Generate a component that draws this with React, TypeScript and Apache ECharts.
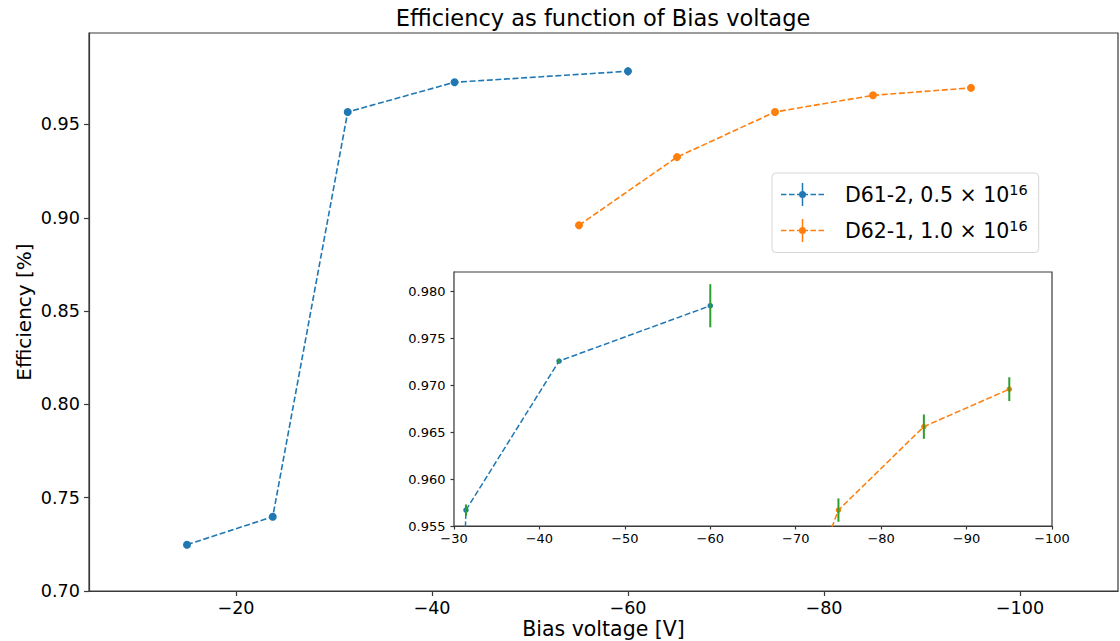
import React, { useEffect, useRef } from "react";
import * as echarts from "echarts";

// ---- data ----
const blueName = "D61-2, 0.5 × 10^16";
const orangeName = "D62-1, 1.0 × 10^16";

const blueVoltage = [-15, -23.75, -31.4, -42.3, -60];
const blueEfficiency = [0.7248, 0.7398, 0.9567, 0.9726, 0.9785];
const blueError = [0.0004, 0.0004, 0.0006, 0.0002, 0.0023];

const orangeVoltage = [-55, -65, -75, -85, -95];
const orangeEfficiency = [0.896, 0.9325, 0.9567, 0.9656, 0.9696];
const orangeError = [0.0012, 0.0012, 0.00125, 0.0013, 0.00127];

const mainXTicks = [-20, -40, -60, -80, -100];
const mainYTicks = [0.7, 0.75, 0.8, 0.85, 0.9, 0.95];
const insetXTicks = [-30, -40, -50, -60, -70, -80, -90, -100];
const insetYTicks = [0.955, 0.96, 0.965, 0.97, 0.975, 0.98];

const BLUE = "#1f77b4";
const ORANGE = "#ff7f0e";
const GREEN = "#2ca02c";
const SPINE = "#3a3a3a";
const FONT = "DejaVu Sans";

const legendIcon =
  "path://M0,10.75h5.5v1.5h-5.5Z M8,10.75h5.5v1.5h-5.5Z M16,10.75h11v1.5h-11Z M29.5,10.75h5.5v1.5h-5.5Z M37.5,10.75h5.5v1.5h-5.5Z M20.75,0h1.5v23h-1.5Z M18,11.5a3.5,3.5 0 1,1 7,0a3.5,3.5 0 1,1 -7,0Z";

const minus = (v: number) => (v < 0 ? "\u2212" + Math.abs(v) : String(v));

const zip = (xs: number[], ys: number[]) => xs.map((x, i) => [x, ys[i]]);
const zip3 = (xs: number[], ys: number[], es: number[]) =>
  xs.map((x, i) => [x, ys[i], es[i]]);

function errRender(color: string, width: number) {
  return (_params: any, api: any) => {
    const x = api.value(0);
    const y = api.value(1);
    const e = api.value(2);
    const p1 = api.coord([x, y - e]);
    const p2 = api.coord([x, y + e]);
    return {
      type: "line",
      shape: { x1: p1[0], y1: p1[1], x2: p2[0], y2: p2[1] },
      style: { stroke: color, lineWidth: width },
    };
  };
}

function axisBase(tickLen: number, labelSize: number, ticks: number[], fmt: (v: number) => string, margin: number) {
  return {
    nameMoveOverlap: false,
    axisLine: { show: true, onZero: false, lineStyle: { color: SPINE, width: 1.2 } },
    axisTick: {
      show: true,
      inside: false,
      length: tickLen,
      customValues: ticks,
      lineStyle: { color: SPINE, width: 1.2 },
    },
    axisLabel: {
      show: true,
      customValues: ticks,
      formatter: fmt,
      fontFamily: FONT,
      fontSize: labelSize,
      color: "#000",
      margin,
      hideOverlap: false,
    },
    splitLine: { show: false },
  };
}

export default function App() {
  const ref = useRef<HTMLDivElement>(null);

  useEffect(() => {
    if (!ref.current) return;
    const chart = echarts.init(ref.current, undefined, { renderer: "svg" });

    const lineDash = [6, 2.6];

    const option: any = {
      animation: false,
      backgroundColor: "#fff",
      title: {
        text: "Efficiency as function of Bias voltage",
        left: 603,
        top: 6,
        textAlign: "center",
        padding: 0,
        textStyle: { fontFamily: FONT, fontSize: 22.5, fontWeight: "normal", color: "#000" },
      },
      legend: {
        orient: "vertical",
        left: 772,
        top: 173,
        padding: [9.5, 11, 10, 9],
        itemWidth: 43,
        itemHeight: 23,
        itemGap: 12,
        selectedMode: false,
        backgroundColor: "rgba(255,255,255,0.8)",
        borderColor: "#d6d6d6",
        borderWidth: 1,
        borderRadius: 4,
        itemStyle: { borderWidth: 0 },
        formatter: (name: string) => name.replace(/\^(\d+)/, "{sup|$1}"),
        textStyle: {
          fontFamily: FONT,
          fontSize: 20.5,
          color: "#000",
          padding: [0, 0, 0, 16],
          lineHeight: 24,
          rich: {
            sup: { fontFamily: FONT, fontSize: 14.5, color: "#000", verticalAlign: "top", lineHeight: 14 },
          },
        },
        data: [
          { name: blueName, icon: legendIcon },
          { name: orangeName, icon: legendIcon },
        ],
      },
      grid: [
        {
          left: 89,
          top: 33,
          width: 1029,
          height: 558,
          show: true,
          outerBoundsMode: "none",
          containLabel: false,
          backgroundColor: "#fff",
          borderColor: SPINE,
          borderWidth: 1.2,
        },
        {
          left: 454,
          top: 272,
          width: 598,
          height: 254,
          show: true,
          outerBoundsMode: "none",
          containLabel: false,
          backgroundColor: "#fff",
          borderColor: SPINE,
          borderWidth: 1.2,
          z: 3,
        },
      ],
      xAxis: [
        {
          type: "value",
          gridIndex: 0,
          inverse: true,
          min: -110,
          max: -5,
          name: "Bias voltage [V]",
          nameLocation: "middle",
          nameGap: 27,
          nameTextStyle: { fontFamily: FONT, fontSize: 20.5, color: "#000" },
          ...axisBase(5, 17.6, mainXTicks, minus, 8),
        },
        {
          type: "value",
          gridIndex: 1,
          inverse: true,
          min: -100,
          max: -30,
          ...axisBase(3.5, 13, insetXTicks, minus, 6),
        },
      ],
      yAxis: [
        {
          type: "value",
          gridIndex: 0,
          min: 0.7,
          max: 0.999,
          name: "Efficiency [%]",
          nameLocation: "middle",
          nameGap: 55,
          nameTextStyle: { fontFamily: FONT, fontSize: 20, color: "#000" },
          ...axisBase(5, 17.6, mainYTicks, (v: number) => v.toFixed(2), 9),
        },
        {
          type: "value",
          gridIndex: 1,
          min: 0.955,
          max: 0.9821,
          ...axisBase(3.5, 13, insetYTicks, (v: number) => v.toFixed(3), 8.5),
        },
      ],
      series: [
        {
          type: "custom",
          name: "err-blue-main",
          xAxisIndex: 0,
          yAxisIndex: 0,
          z: 1,
          clip: true,
          renderItem: errRender(BLUE, 1.5),
          encode: { x: 0, y: 1 },
          data: zip3(blueVoltage, blueEfficiency, blueError),
        },
        {
          type: "custom",
          name: "err-orange-main",
          xAxisIndex: 0,
          yAxisIndex: 0,
          z: 1,
          clip: true,
          renderItem: errRender(ORANGE, 1.5),
          encode: { x: 0, y: 1 },
          data: zip3(orangeVoltage, orangeEfficiency, orangeError),
        },
        {
          type: "line",
          name: blueName,
          xAxisIndex: 0,
          yAxisIndex: 0,
          symbol: "circle",
          symbolSize: 8,
          clip: true,
          itemStyle: { color: BLUE },
          lineStyle: { color: BLUE, width: 1.6, type: lineDash },
          data: zip(blueVoltage, blueEfficiency),
        },
        {
          type: "line",
          name: orangeName,
          xAxisIndex: 0,
          yAxisIndex: 0,
          symbol: "circle",
          symbolSize: 8,
          clip: true,
          itemStyle: { color: ORANGE },
          lineStyle: { color: ORANGE, width: 1.6, type: lineDash },
          data: zip(orangeVoltage, orangeEfficiency),
        },
        {
          type: "line",
          name: "inset-blue",
          xAxisIndex: 1,
          yAxisIndex: 1,
          symbol: "circle",
          symbolSize: 5.5,
          clip: true,
          z: 4,
          itemStyle: { color: BLUE },
          lineStyle: { color: BLUE, width: 1.5, type: lineDash },
          data: zip(blueVoltage, blueEfficiency),
        },
        {
          type: "line",
          name: "inset-orange",
          xAxisIndex: 1,
          yAxisIndex: 1,
          symbol: "circle",
          symbolSize: 5.5,
          clip: true,
          z: 4,
          itemStyle: { color: ORANGE },
          lineStyle: { color: ORANGE, width: 1.5, type: lineDash },
          data: zip(orangeVoltage, orangeEfficiency),
        },
        {
          type: "custom",
          name: "err-blue-inset",
          xAxisIndex: 1,
          yAxisIndex: 1,
          z: 5,
          clip: true,
          renderItem: errRender(GREEN, 2),
          encode: { x: 0, y: 1 },
          data: zip3(blueVoltage, blueEfficiency, blueError),
        },
        {
          type: "custom",
          name: "err-orange-inset",
          xAxisIndex: 1,
          yAxisIndex: 1,
          z: 5,
          clip: true,
          renderItem: errRender(GREEN, 2),
          encode: { x: 0, y: 1 },
          data: zip3(orangeVoltage, orangeEfficiency, orangeError),
        },
      ],
    };

    chart.setOption(option);
    return () => chart.dispose();
  }, []);

  return (
    <div
      ref={ref}
      style={{ position: "fixed", left: 0, top: 0, width: 1120, height: 641, background: "#fff" }}
    />
  );
}
